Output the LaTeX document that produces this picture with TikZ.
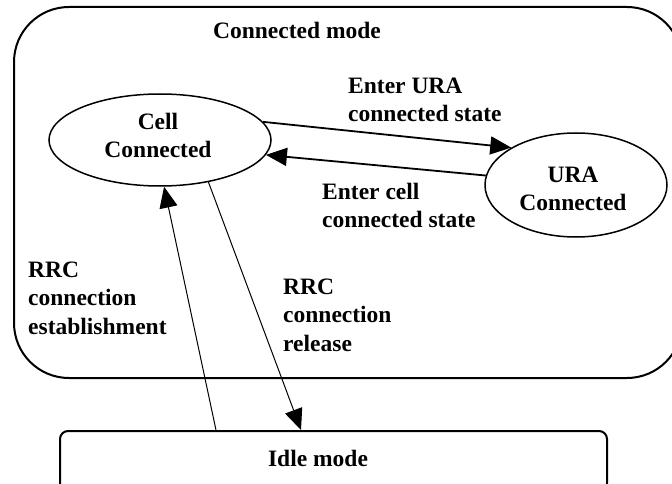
\documentclass[tikz,border=0pt]{standalone}
\usepackage{fontspec}
\setmainfont{Liberation Serif}
\usetikzlibrary{arrows.meta,shapes.geometric}
\begin{document}
\begin{tikzpicture}[x=1pt,y=-1pt,
  txt/.style={font=\fontsize{23.5}{28.3}\selectfont\bfseries, inner sep=0pt},
  state/.style={draw, ellipse, line width=1.5pt, inner sep=0pt},
  arr/.style={-{Triangle[length=21pt,width=18pt]}},
  thick arr/.style={arr, line width=1.8pt},
  thin arr/.style={arr, line width=1pt}]
\useasboundingbox (0,0) rectangle (672,484);
\clip (0,0) rectangle (672,484);
% containers
\node[draw, rounded corners=55pt, line width=2pt, minimum width=668pt, minimum height=371pt, inner sep=0pt] (conn) at (348,192.5) {};
\node[draw, rounded corners=8pt, line width=2pt, minimum width=547pt, minimum height=60pt, inner sep=0pt] (idle) at (333.5,461) {};
\node[txt, anchor=base] (connlbl) at (297,39) {Connected mode};
\node[txt, anchor=base] (idlelbl) at (318,466) {Idle mode};
% states
\node[state, minimum width=222pt, minimum height=92pt] (cell) at (160,140) {};
\node[state, minimum width=182pt, minimum height=104pt] (ura) at (576,185) {};
\node[txt, align=center] (celltxt) at (158,135.5) {Cell\\Connected};
\node[txt, align=center] (uratxt) at (573,189.2) {URA\\Connected};
% transitions
\draw[thick arr] (cell.10) -- (ura.150);
\draw[thick arr] (ura.174) -- (cell.-8);
\draw[thin arr] ([xshift=157pt]idle.north west) -- (cell.-85);
\draw[thin arr] (cell.-41) -- ([xshift=242pt]idle.north west);
% labels
\node[txt, align=left, anchor=west] (l1) at (348,99.7) {Enter URA\\connected state};
\node[txt, align=left, anchor=west] (l2) at (322,205.5) {Enter cell\\connected state};
\node[txt, align=left, anchor=west] (l3) at (28,298.2) {RRC\\connection\\establishment};
\node[txt, align=left, anchor=west] (l4) at (283,315.2) {RRC\\connection\\release};
\end{tikzpicture}
\end{document}
